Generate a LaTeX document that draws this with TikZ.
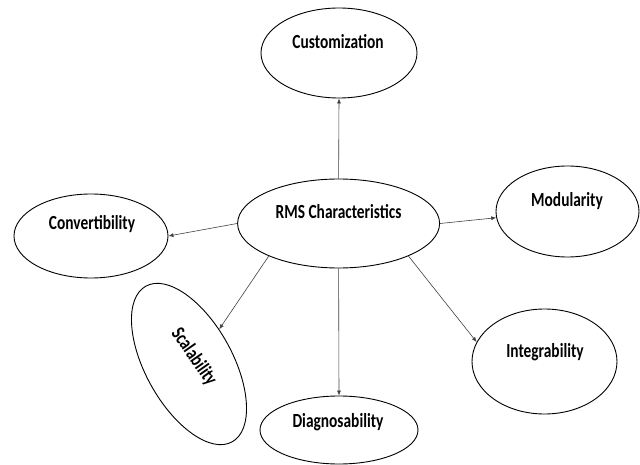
\documentclass[tikz,border=0pt]{standalone}
\usepackage{fontspec}
\newfontfamily\lblfont{Carlito}[FakeStretch=0.77]
\usetikzlibrary{shapes.geometric,arrows.meta}
\begin{document}
\begin{tikzpicture}[x=1pt,y=-1pt,
  oval/.style={draw=black,line width=0.9pt,ellipse,inner sep=0pt},
  lbl/.style={font=\lblfont\bfseries\fontsize{20}{24}\selectfont,inner sep=0pt},
  conn/.style={draw=black!75,line width=0.6pt,-{Latex[length=5pt,width=4pt]}}]
\useasboundingbox (0,0) rectangle (640,465);
% ellipses
\node[oval,minimum width=202pt,minimum height=89pt] (c) at (338.6,223.5) {};
\node[oval,minimum width=156pt,minimum height=90pt] (cust) at (339,53) {};
\node[oval,minimum width=143pt,minimum height=91pt] (mod) at (567.5,211.5) {};
\node[oval,minimum width=154pt,minimum height=84pt] (conv) at (91,236) {};
\node[oval,minimum width=178pt,minimum height=87pt,rotate=-61] (scal) at (189,364) {};
\node[oval,minimum width=158pt,minimum height=68pt] (diag) at (339,430) {};
\node[oval,minimum width=145pt,minimum height=105pt] (integ) at (544.5,361.5) {};
% labels
\node[lbl,anchor=base] (cT) at (338.6,219) {RMS Characteristics};
\node[lbl,anchor=base] (custT) at (338,48.5) {Customization};
\node[lbl,anchor=base] (modT) at (567,207) {Modularity};
\node[lbl,anchor=base] (convT) at (92,230) {Convertibility};
\node[lbl,rotate=-55] (scalT) at (194,357) {Scalability};
\node[lbl,anchor=base] (diagT) at (338,427) {Diagnosability};
\node[lbl,anchor=base] (integT) at (545,357) {Integrability};
% connectors
\draw[conn] (c.north) -- (cust.south);
\draw[conn] (c.east) -- (mod.185);
\draw[conn] (c.west) -- (conv.east);
\draw[conn] (c.205) -- (scal.110);
\draw[conn] (c.south) -- (diag.north);
\draw[conn] (c.335) -- (integ.164);
\end{tikzpicture}
\end{document}
